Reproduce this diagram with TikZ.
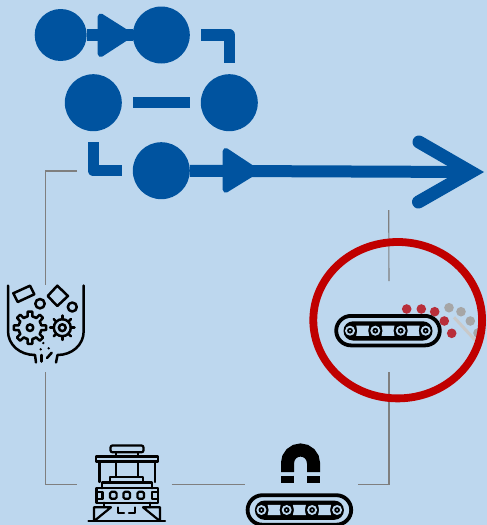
\documentclass[tikz,border=0pt]{standalone}
\definecolor{bgblue}{HTML}{BDD7EE}
\definecolor{flowblue}{HTML}{00539F}
\definecolor{ringred}{HTML}{C00000}
\definecolor{dotred}{HTML}{B82E3A}
\definecolor{dotgrey}{HTML}{A6A6A6}
\definecolor{chutegrey}{HTML}{C9C9C9}
\definecolor{linkgrey}{HTML}{7F7F7F}
\tikzset{
  flowdot/.style={circle,fill=flowblue,draw=none,inner sep=0pt},
  flowline/.style={draw=flowblue,line width=11.5pt,line join=round},
  gapped/.style={shorten <=11pt,shorten >=11pt},
  flowtip/.style={fill=flowblue,draw=flowblue,line width=6pt,line join=round},
  link/.style={draw=linkgrey,line width=1.1pt},
  anchorbox/.style={draw=none,inner sep=0pt,outer sep=0pt},
  icon/.style={draw=black,line width=2.5pt,line join=round,line cap=round},
  thinicon/.style={draw=black,line width=2.2pt,line join=round,line cap=round},
}
\newcommand{\conveyoricon}[2]{%
  \begin{scope}[shift={(#1,#2)}]
    \draw[line width=3.8pt,draw=black] (336.2,315.9) [rounded corners=14.8pt] rectangle (439.8,345.4);
    \fill[black] (343.5,321.3) [rounded corners=9.5pt] rectangle (432.5,340.5);
    \foreach \wx in {350,375.3,400.7,425.7}{
      \fill[bgblue] (\wx,330.7) circle[radius=5];
      \fill[black] (\wx,330.7) circle[radius=2.9];
      \fill[bgblue] (\wx,330.7) circle[radius=1];
    }
    \foreach \gx in {362.7,388,413.2}{
      \fill[bgblue] (\gx-6.5,325.5) -- (\gx+6.5,325.5) -- (\gx+5.5,330.7) -- (\gx+6.5,335.9) -- (\gx-6.5,335.9) -- (\gx-5.5,330.7) -- cycle;
    }
  \end{scope}}
\begin{document}
\begin{tikzpicture}[x=1pt,y=-1pt]
\useasboundingbox (0,0) rectangle (487,525);
\clip (0,0) rectangle (487,525);
\fill[bgblue] (0,0) rectangle (487,525);

% grey links
\coordinate (linkstart) at (77,171);
\coordinate (linktop) at (388.7,210);
\node[anchorbox,minimum width=70pt,minimum height=87pt] (hopper) at (45.7,328.5) {};
\node[anchorbox,minimum width=94.7pt,minimum height=60pt] (press) at (124.3,484.5) {};
\node[anchorbox,minimum width=113pt,minimum height=60pt] (magnet) at (301.5,484.5) {};
\node[anchorbox,minimum width=100pt,minimum height=91pt] (belt) at (389,326.5) {};
\draw[link] (linkstart) -| (hopper.north);
\draw[link] (hopper.south) |- (press.west);
\draw[link] (press.east) -- (magnet.west);
\draw[link] (magnet.east) -| (belt.south);
\draw[link] (linktop) -- (belt.north);

% flow circles
\node[flowdot,minimum size=52pt] (A) at (60.7,35) {};
\node[flowdot,minimum size=57pt] (B) at (161.3,35) {};
\node[flowdot,minimum size=57pt] (C) at (93.3,102.7) {};
\node[flowdot,minimum size=57pt] (D) at (229.3,102.7) {};
\node[flowdot,minimum size=57pt] (E) at (161.3,170.7) {};

% A to B
\draw[flowline] (A) -- (B);
\fill[flowtip] (100.7,16.5) -- (130,35) -- (100.7,54) -- cycle;
% B to D, C to D, C to E
\draw[flowline,gapped] (B) -| (D);
\draw[flowline,gapped] (C) -- (D);
\draw[flowline,gapped] (C) |- (E);
% E to big arrow
\coordinate (bigtip) at (471,172);
\coordinate (bigup) at (419,142);
\coordinate (bigdown) at (418.5,202);
\draw[draw=flowblue,line width=12pt] (E) -- (bigtip);
\fill[flowtip] (225.7,151) -- (256,171) -- (225.7,189.7) -- cycle;
\draw[draw=flowblue,line width=13pt,line cap=round,line join=miter,miter limit=10] (bigup) -- (bigtip) -- (bigdown);

% stream of particles behind the ring
\draw[chutegrey,line width=3pt] (454,317.3) -- (475,340);
\foreach \px/\py in {449/307.7,461/311.7,470.3/321,478/333}
  \fill[dotgrey] (\px,\py) circle[radius=4.8];
\foreach \px/\py in {406.7/309,421.3/309,434.7/311.7,444.3/321,451.7/333.3}
  \fill[dotred] (\px,\py) circle[radius=4.8];

% ring and belt
\draw[ringred,line width=7.8pt] (397.7,320.2) ellipse[x radius=84.4,y radius=78.2];
\conveyoricon{0}{0}

% lower conveyor with magnet
\conveyoricon{-88.6}{179.3}
\draw[black,line width=13pt] (287.5,472) -- (287.5,463) arc[start angle=180,end angle=360,radius=13] -- (313.5,472);
\draw[black,line width=13pt] (287.5,475.5) -- (287.5,482.5);
\draw[black,line width=13pt] (313.5,476) -- (313.5,483.3);

% hopper
\draw[icon] (8,285.5) -- (8,331) .. controls (8,345) and (20,355) .. (35,355) -- (36,362.5);
\draw[icon] (83.7,285.5) -- (83.7,331) .. controls (83.7,345) and (72,355) .. (57.5,355) -- (56,362.5);
\draw[icon] (13.3,293.3) -- (30,285.7) -- (34.3,294.3) -- (17.7,302) -- cycle;
\draw[icon] (57.3,285.7) -- (68,296) -- (57.3,306) -- (47.7,296) -- cycle;
\draw[icon] (40,303.7) circle[radius=4.7];
\draw[icon] (72.3,307) circle[radius=4.5];
\begin{scope}[shift={(30,327.7)}]
  \foreach \a in {0,45,...,315}
    \draw[icon] (\a-22.5:11.5) -- (\a-12:11.5) -- (\a-8:16.3) -- (\a+8:16.3) -- (\a+12:11.5) -- (\a+22.5:11.5);
  \draw[icon] (0,0) circle[radius=3.3];
\end{scope}
\begin{scope}[shift={(62.3,327.7)}]
  \draw[icon] (0,0) circle[radius=8.5];
  \draw[icon] (0,0) circle[radius=3.4];
  \foreach \a in {0,45,...,315}
    \draw[icon] (\a:8.5) -- (\a:12.2);
\end{scope}
\foreach \px/\py in {43.3/343,40.7/349.3,48.7/348.3}
  \fill[black] (\px,\py) circle[radius=1.3];
\draw[icon] (41.3,355) -- (41.3,361.5);
\draw[icon] (51.7,352.7) -- (47,358);

% press
\draw[thinicon] (122,445.5) -- (112,445.5) [rounded corners=2pt] -- (110.5,445.5) -- (110.5,452.3) -- (143.5,452.3) -- (143.5,445.5) -- (117,445.5);
\draw[thinicon] (116,452.3) -- (116,456.5);
\draw[thinicon] (138.3,452.3) -- (138.3,456.5);
\draw[thinicon] (96,456.5) rectangle (158,461.5);
\draw[thinicon] (99.5,461.5) -- (99.5,482);
\draw[thinicon] (155,461.5) -- (155,482);
\draw[thinicon] (115.7,461.5) -- (115.7,476.7);
\draw[thinicon] (138.3,461.5) -- (138.3,476.7);
\draw[thinicon] (110,482) -- (110,476.7) -- (143.3,476.7) -- (143.3,482);
\draw[thinicon] (102.3,488.3) -- (102.3,482.5) -- (151.7,482.5) -- (151.7,488.3);
\draw[thinicon] (96.5,488.3) rectangle (158,502.7);
\foreach \hx in {113.3,126.7,140.7}
  \draw[thinicon,rounded corners=1.5pt] (\hx-3.3,491.8) rectangle (\hx+3.3,498.8);
\draw[thinicon] (96.5,491.8) -- (102.5,491.8) -- (102.5,498.8) -- (96.5,498.8);
\draw[thinicon] (158,491.8) -- (152,491.8) -- (152,498.8) -- (158,498.8);
\draw[thinicon] (104,502.7) -- (104,507.3);
\draw[thinicon] (150,502.7) -- (150,507.3);
\draw[thinicon] (94,520.7) -- (94,507.3) -- (111,507.3) -- (96,519.5);
\draw[thinicon] (160,520.7) -- (160,507.3) -- (143,507.3) -- (158,519.5);
\draw[thinicon] (118.3,507.5) -- (118.3,512.7) -- (124,512.7);
\draw[thinicon] (129,512.7) -- (135,512.7) -- (135,507.5);
\draw[thinicon] (88.5,520.7) -- (165,520.7);
\end{tikzpicture}
\end{document}
